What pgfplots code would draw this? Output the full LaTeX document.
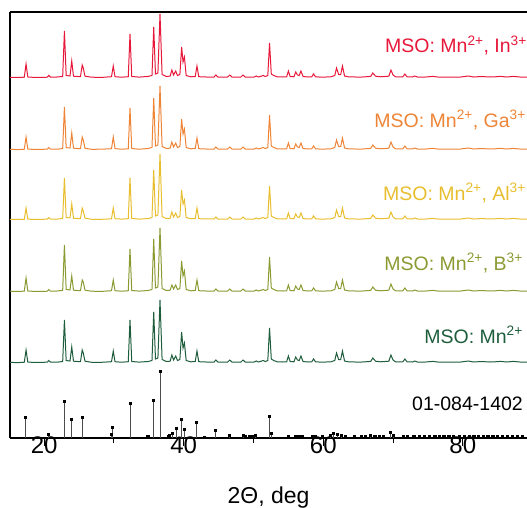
\documentclass[border=0pt]{standalone}
\usepackage{fontspec}
\setmainfont{Liberation Sans}
\usepackage{pgfplots}
\usepackage{pgfplotstable}
\pgfplotsset{compat=1.18}
\usetikzlibrary{calc}

\definecolor{cIn}{HTML}{E8183A}
\definecolor{cGa}{HTML}{EE8436}
\definecolor{cAl}{HTML}{E8BE2E}
\definecolor{cB}{HTML}{8C9A32}
\definecolor{cMn}{HTML}{1F5E3C}

% measured patterns, baseline-free intensities (one column per sample)
\pgfplotstableread{
x      mn    b     al    ga    in
15.1   0.6   0.8   0.5   0.7   0.6
16.3   0.4   0.5   0.6   0.4   0.5
17.15  0.8   0.9   0.7   0.8   0.8
17.4   13    14    12    13    14
17.65  1.0   1.0   0.9   1.0   1.0
18.6   0.5   0.6   0.5   0.5   0.6
19.6   0.7   0.5   0.6   0.7   0.5
20.45  0.8   0.8   0.9   0.8   0.8
20.65  2.5   2.5   2.4   2.5   2.6
20.9   0.9   0.8   0.9   0.8   0.9
21.8   0.8   1.0   0.9   0.8   1.0
22.65  1.5   1.6   1.5   1.4   1.5
22.9   43    47    42    43    47
23.15  2.5   2.6   2.4   2.4   2.6
23.7   2.0   2.0   2.1   2.0   2.0
23.95  16    16    16    17    17
24.2   1.8   1.8   1.7   1.8   1.8
25.2   1.3   1.3   1.4   1.3   1.3
25.45  13    12    12    13    13
25.6   10    10    9     10    10
25.85  1.8   1.8   1.8   1.7   1.8
26.8   0.7   0.8   0.7   0.7   0.8
28.2   0.7   0.6   0.7   0.8   0.6
29.65  1.3   1.3   1.2   1.3   1.3
29.9   12    12    12    13    12
30.15  1.3   1.3   1.3   1.4   1.3
31.1   0.8   0.8   0.9   0.8   0.8
32.05  1.3   1.3   1.3   1.2   1.3
32.3   43    43    42    42    44
32.55  1.5   1.5   1.6   1.5   1.5
33.6   0.9   0.9   0.9   0.8   0.9
34.9   1.5   1.5   1.4   1.5   1.6
35.45  2.5   2.5   2.5   2.6   2.5
35.7   51    53    50    52    51
35.95  4     4     4     4     4
36.3   5     5     5     5     5
36.6   63    64    66    64    64
36.9   3.5   3.5   3.4   3.5   3.5
37.5   1.5   1.5   1.5   1.6   1.5
38.05  1.8   1.8   1.8   1.8   1.9
38.3   8     7     8     8     8
38.55  3     3     3     3     3
38.85  7     7     7     7     7
39.1   2.5   2.5   2.5   2.5   2.5
39.45  3.5   3.5   3.5   3.5   3.5
39.7   31    31    30    31    31
39.9   15    16    16    16    16
40.1   20    21    20    21    21
40.35  2.5   2.5   2.5   2.5   2.5
41.0   1.2   1.2   1.3   1.2   1.2
41.65  1.5   1.5   1.5   1.5   1.5
41.9   12    12    12    12    12
42.15  1.3   1.3   1.3   1.3   1.3
43.2   1.0   1.0   1.1   1.0   1.0
44.35  1.0   1.0   1.0   1.0   1.0
44.6   3     3     3     3     3
44.9   1.0   1.0   1.0   1.0   1.0
45.6   0.8   0.8   0.9   0.8   0.8
46.3   1.0   1.0   1.0   1.0   1.0
46.6   3     3     3     3     3
46.9   1.0   1.0   1.0   1.0   1.0
47.6   0.8   0.8   0.8   0.9   0.8
48.2   1.0   1.0   1.0   1.0   1.0
48.5   3     3     3     3     3
48.8   1.0   1.0   1.0   1.0   1.0
49.5   0.8   0.8   0.8   0.8   0.8
50.1   1.0   1.0   1.0   1.0   1.0
50.4   2     2     2     2     2
50.7   1.0   1.0   1.0   1.0   1.0
51.1   1.8   1.8   1.8   1.8   1.8
51.4   2.5   2.5   2.5   2.5   2.5
51.7   1.5   1.5   1.5   1.5   1.5
52.05  2.5   2.5   2.5   2.5   2.5
52.3   35    35    34    35    35
52.55  4     4     4     4     4
52.9   2.5   2.5   2.5   2.5   2.5
53.4   1.2   1.2   1.2   1.2   1.2
54.2   1.0   1.0   1.0   1.0   1.0
54.75  1.2   1.2   1.2   1.2   1.2
55.0   7     7     7     7     7
55.25  1.5   1.5   1.5   1.5   1.5
55.8   1.2   1.2   1.2   1.2   1.2
56.05  6     6     6     6     6
56.3   3     3     3     3     3
56.55  2.5   2.5   2.5   2.5   2.5
56.8   7     7     7     7     7
57.1   1.5   1.5   1.5   1.5   1.5
57.8   1.0   1.0   1.0   1.0   1.0
58.35  1.2   1.2   1.2   1.2   1.2
58.6   4     4     4     4     4
58.9   1.2   1.2   1.2   1.2   1.2
59.6   0.9   0.9   0.9   0.9   0.9
60.4   1.0   1.0   1.0   1.0   1.0
61.1   1.2   1.2   1.2   1.2   1.2
61.65  2.5   2.5   2.5   2.5   2.5
61.9   10    10    10    10    10
62.2   3.5   3.5   3.5   3.5   3.5
62.5   3.5   3.5   3.5   3.5   3.5
62.75  12    12    12    12    12
63.05  2     2     2     2     2
63.6   1.2   1.2   1.2   1.2   1.2
64.6   1.0   1.0   1.0   1.0   1.0
65.6   1.0   1.0   1.0   1.0   1.0
66.8   1.6   1.6   1.6   1.6   1.6
67.1   5     5     5     5     5
67.5   1.8   1.8   1.8   1.8   1.8
68.2   1.2   1.2   1.2   1.2   1.2
69.4   1.8   1.8   1.8   1.8   1.8
69.7   8     8     8     8     8
70.0   3     3     3     3     3
70.35  1.2   1.2   1.2   1.2   1.2
71.4   1.2   1.2   1.2   1.2   1.2
71.7   4     4     4     4     4
72.0   1.2   1.2   1.2   1.2   1.2
72.8   1.0   1.0   1.0   1.0   1.0
73.1   2     2     2     2     2
73.5   1.0   1.0   1.0   1.0   1.0
74.5   0.9   0.9   0.9   0.9   0.9
75.7   1.6   1.6   1.6   1.6   1.6
76.4   1.0   1.0   1.0   1.0   1.0
77.5   0.9   0.9   0.9   0.9   0.9
78.6   1.0   1.0   1.0   1.0   1.0
79.6   0.9   0.9   0.9   0.9   0.9
80.8   2     2     2     2     2
81.5   1.0   1.0   1.0   1.0   1.0
82.7   1.5   1.5   1.5   1.5   1.5
83.8   1.0   1.0   1.0   1.0   1.0
84.6   1.2   1.2   1.2   1.2   1.2
85.4   1.6   1.6   1.6   1.6   1.6
86.3   1.0   1.0   1.0   1.0   1.0
87.2   1.6   1.6   1.6   1.6   1.6
88.2   1.0   1.0   1.0   1.0   1.0
89.3   1.0   1.0   1.0   1.0   1.0
}\scans

% reference card 01-084-1402 (position, intensity)
\pgfplotstableread{
x      h
17.35  21
20.6   3.5
22.9   37
23.9   19
25.5   21
29.65  4
29.75  11
32.3   35
34.75  2
34.95  2
35.7   38
36.6   67
37.8   2
37.95  3
38.4   5
38.9   10
39.7   19
40.1   9
41.8   16
43.0   1
44.5   8
46.5   3
48.5   2.5
48.8   2
49.4   2
49.8   2
50.3   2.5
52.3   22
52.6   5
55.0   2
56.0   2
56.5   2
57.0   2
58.4   2
58.9   2
59.9   2
61.0   3
61.5   5
62.0   4
62.6   3
63.2   2
64.5   2
65.5   2
66.0   2
66.8   3
67.4   2
68.0   2
68.6   2
69.6   6
70.0   3
71.5   1.5
72.0   1.5
73.0   1.5
73.8   1.5
74.5   1.5
75.2   1.5
76.0   1.5
76.7   1.5
77.3   1.5
78.0   1.5
78.7   1.5
79.5   1.5
80.2   1.5
81.0   1.5
81.6   1.5
82.2   1.5
82.9   1.5
83.6   1.5
84.3   1.5
85.0   1.5
85.7   1.5
86.4   1.5
87.1   1.5
87.8   1.5
88.5   1.5
}\card

\begin{document}
\begin{tikzpicture}
\begin{axis}[
    name=ax,
    scale only axis,
    width=517pt, height=426pt,
    xmin=15.1, xmax=89.2,
    ymin=0, ymax=426,
    axis lines=left,
    axis line style={-, line width=1.2pt},
    xtick={20,40,60,80},
    minor xtick={30,50,70},
    ytick=\empty,
    tick align=outside,
    major tick length=8pt,
    minor tick length=5pt,
    tick style={line width=1pt, black},
    /pgf/number format/assume math mode=true,
    xticklabel style={font=\fontsize{24}{28}\selectfont, yshift=13pt},
    xlabel={2Θ, deg},
    xlabel style={font=\fontsize{23}{27}\selectfont, at={(axis description cs:0.5,0)}, anchor=base, yshift=-65pt},
    clip=true,
]
\draw[line width=1.2pt] (rel axis cs:0,1) -- (rel axis cs:1,1);

\addplot[cMn, line width=1pt] table[x=x, y expr=\thisrow{mn}+75] {\scans};
\addplot[cB,  line width=1pt] table[x=x, y expr=\thisrow{b}+146] {\scans};
\addplot[cAl, line width=1pt] table[x=x, y expr=\thisrow{al}+218] {\scans};
\addplot[cGa, line width=1pt] table[x=x, y expr=\thisrow{ga}+288] {\scans};
\addplot[cIn, line width=1pt] table[x=x, y expr=\thisrow{in}+360] {\scans};

\addplot[ycomb, gray!60!black, line width=0.8pt, mark=square*, mark size=1.1pt,
    mark options={black}] table[x=x, y=h] {\card};
\end{axis}

\begin{scope}[font=\fontsize{19.5}{24}\selectfont]
\node[anchor=base east, text=cIn, inner sep=0pt] at ($(ax.south west)+(517pt,385pt)$) {MSO: Mn\textsuperscript{2+}, In\textsuperscript{3+}};
\node[anchor=base east, text=cGa, inner sep=0pt] at ($(ax.south west)+(516pt,311pt)$) {MSO: Mn\textsuperscript{2+}, Ga\textsuperscript{3+}};
\node[anchor=base east, text=cAl, inner sep=0pt] at ($(ax.south west)+(516pt,238pt)$) {MSO: Mn\textsuperscript{2+}, Al\textsuperscript{3+}};
\node[anchor=base east, text=cB, inner sep=0pt] at ($(ax.south west)+(513pt,168pt)$) {MSO: Mn\textsuperscript{2+}, B\textsuperscript{3+}};
\node[anchor=base east, text=cMn, inner sep=0pt] at ($(ax.south west)+(513pt,95pt)$) {MSO: Mn\textsuperscript{2+}};
\node[anchor=base east, text=black, inner sep=0pt] at ($(ax.south west)+(513pt,28pt)$) {01-084-1402};
\end{scope}

\pgfresetboundingbox
\path ($(ax.south west)+(-10pt,-69pt)$) rectangle ($(ax.north east)+(0pt,12pt)$);
\end{tikzpicture}
\end{document}
